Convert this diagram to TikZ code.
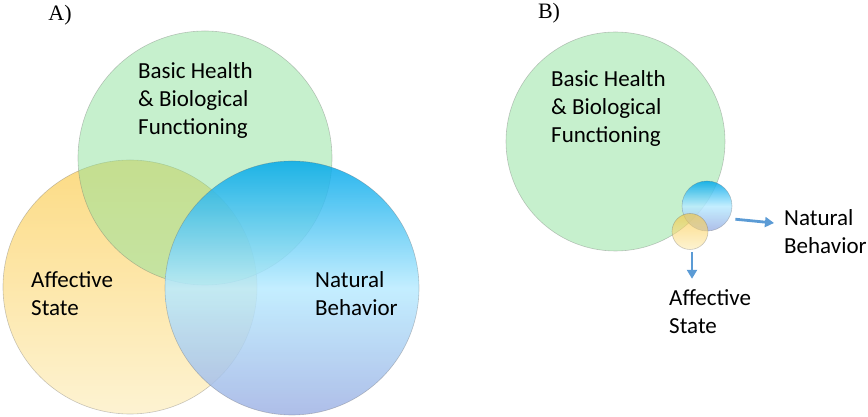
\documentclass[tikz,border=0pt]{standalone}
\usepackage{fontspec}
\setmainfont{Carlito}
\newfontfamily\panelfont{Liberation Serif}
\usetikzlibrary{arrows.meta,positioning}
\definecolor{hgreen}{RGB}{142,226,155}
\definecolor{ytop}{RGB}{250,195,50}
\definecolor{ybot}{RGB}{252,235,180}
\definecolor{btop}{RGB}{0,168,234}
\definecolor{bmid}{RGB}{185,235,255}
\definecolor{bbot}{RGB}{160,178,228}
\definecolor{arrowblue}{RGB}{91,155,213}
\tikzset{
  ring/.style={circle,inner sep=0pt,draw=black!60,draw opacity=0.35,line width=0.6pt},
  health/.style={ring,fill=hgreen,fill opacity=0.5},
  affect/.style={ring,top color=ytop,bottom color=ybot,fill opacity=0.6},
  nature/.style={ring,top color=btop,bottom color=bbot,middle color=bmid,fill opacity=0.85},
  lbl/.style={align=left,anchor=west,inner sep=0pt,font=\fontsize{23}{28}\selectfont},
  panel/.style={inner sep=0pt,font=\panelfont\fontsize{22}{26}\selectfont},
  pointer/.style={draw=arrowblue,line width=2.8pt,-{Triangle[length=9pt,width=10pt]}}
}

\begin{document}
\begin{tikzpicture}[x=1pt,y=1pt]
\useasboundingbox (0,0) rectangle (868,417);

% A) three overlapping circles
\begin{scope}
\node[affect,minimum size=254] (afA) at (130,130) {};
\node[health,minimum size=254] (hA) at (205,259) {};
\node[nature,minimum size=254] (nbA) at (292,129) {};

\node[panel] (pA) at (60,402) {A)};
\node[lbl] (hAt) at (138,317) {Basic Health\\ \& Biological\\ Functioning};
\node[lbl] (afAt) at (31,123) {Affective\\ State};
\node[lbl] (nbAt) at (315,123) {Natural\\ Behavior};
\end{scope}

% B) big circle, two small ones
\begin{scope}
\node[health,minimum size=219] (hB) at (615.5,275.5) {};
\node[nature,minimum size=50] (nbs) at (707,211) {};
\node[affect,minimum size=36] (afs) at (690,185.5) {};

\node[panel] (pB) at (549,404) {B)};
\node[lbl] (hBt) at (551,309) {Basic Health\\ \& Biological\\ Functioning};
\node[lbl] (nbB) at (784,185) {Natural\\ Behavior};
\node[lbl] (afB) at (669,105.5) {Affective\\ State};

\coordinate (nbend) at ([xshift=-10,yshift=9]nbB.west);
\coordinate (afend) at ([xshift=2,yshift=-29]afs.south);

\draw[pointer] ([shift={(-25:6)}]nbs.-25) -- (nbend);
\draw[pointer] ([xshift=2,yshift=-2.5]afs.south) -- (afend);
\end{scope}

\end{tikzpicture}
\end{document}
